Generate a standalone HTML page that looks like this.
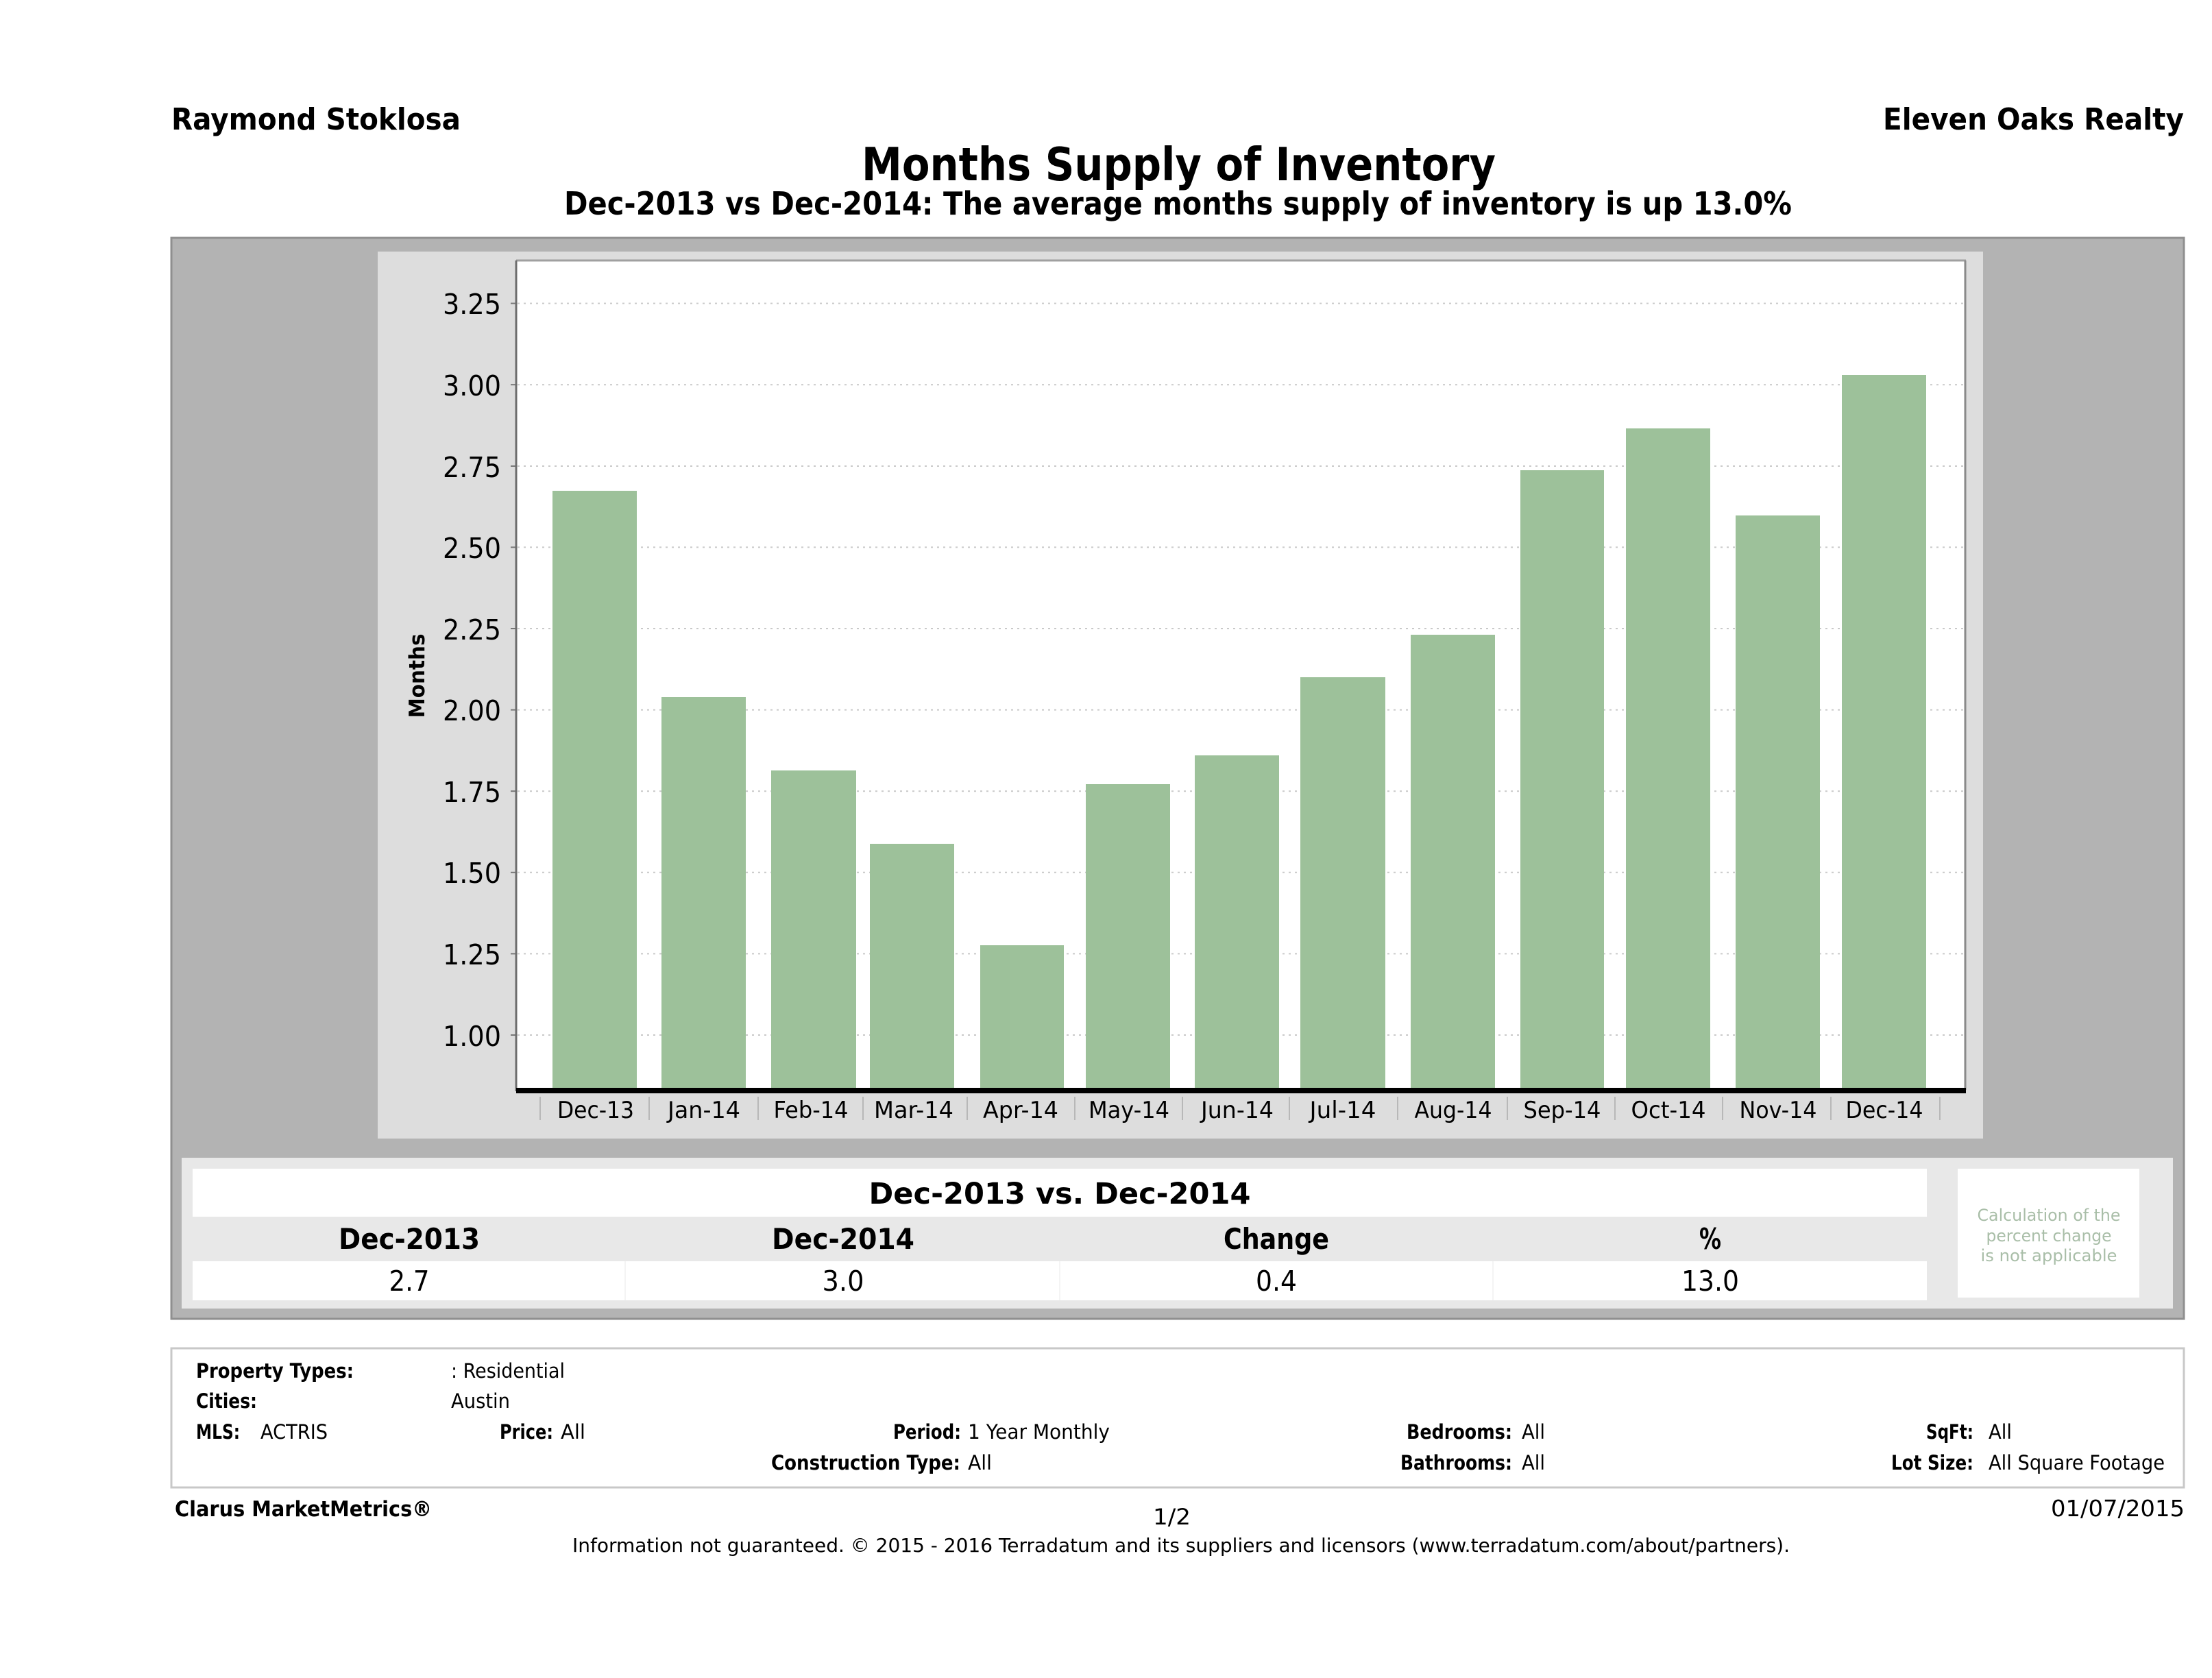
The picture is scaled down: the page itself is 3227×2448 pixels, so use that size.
<!DOCTYPE html>
<html>
<head>
<meta charset="utf-8">
<style>
html,body{margin:0;padding:0;background:#fff;}
svg{display:block;}
text{font-family:"DejaVu Sans","Liberation Sans",sans-serif;fill:#000;}
.b{font-weight:bold;}
</style>
</head>
<body>
<svg width="3227" height="2448" viewBox="0 0 3227 2448" xmlns="http://www.w3.org/2000/svg">
  <rect x="0" y="0" width="3227" height="2448" fill="#ffffff"/>

  <!-- Header -->
  <text class="b" x="250" y="189" font-size="44" textLength="422" lengthAdjust="spacingAndGlyphs">Raymond Stoklosa</text>
  <text class="b" x="2747" y="189" font-size="44" textLength="439" lengthAdjust="spacingAndGlyphs">Eleven Oaks Realty</text>
  <text class="b" x="1257" y="263" font-size="67" textLength="925" lengthAdjust="spacingAndGlyphs">Months Supply of Inventory</text>
  <text class="b" x="823" y="313" font-size="46" textLength="1791" lengthAdjust="spacingAndGlyphs">Dec-2013 vs Dec-2014: The average months supply of inventory is up 13.0%</text>

  <!-- Outer gray panel -->
  <rect x="250" y="347" width="2936" height="1577" fill="#b3b3b3" stroke="#8f8f8f" stroke-width="3"/>

  <!-- Chart light panel -->
  <rect x="551" y="367" width="2342" height="1294" fill="#dddddd"/>

  <!-- Plot area -->
  <rect x="753" y="381" width="2115" height="1208" fill="#ffffff"/>
  <line x1="753" y1="380" x2="2868" y2="380" stroke="#a0a0a0" stroke-width="3"/>
  <line x1="2867" y1="380" x2="2867" y2="1590" stroke="#8a8a8a" stroke-width="3"/>

  <!-- Gridlines -->
  <g stroke="#c9c9c9" stroke-width="2" stroke-dasharray="3,6">
    <line x1="755" y1="442.6" x2="2866" y2="442.6"/>
    <line x1="755" y1="561.2" x2="2866" y2="561.2"/>
    <line x1="755" y1="680" x2="2866" y2="680"/>
    <line x1="755" y1="798.4" x2="2866" y2="798.4"/>
    <line x1="755" y1="917" x2="2866" y2="917"/>
    <line x1="755" y1="1035.6" x2="2866" y2="1035.6"/>
    <line x1="755" y1="1154.2" x2="2866" y2="1154.2"/>
    <line x1="755" y1="1272.8" x2="2866" y2="1272.8"/>
    <line x1="755" y1="1391.4" x2="2866" y2="1391.4"/>
    <line x1="755" y1="1510" x2="2866" y2="1510"/>
  </g>

  <!-- Y tick marks -->
  <g stroke="#777" stroke-width="2">
    <line x1="745" y1="442.6" x2="753" y2="442.6"/>
    <line x1="745" y1="561.2" x2="753" y2="561.2"/>
    <line x1="745" y1="680" x2="753" y2="680"/>
    <line x1="745" y1="798.4" x2="753" y2="798.4"/>
    <line x1="745" y1="917" x2="753" y2="917"/>
    <line x1="745" y1="1035.6" x2="753" y2="1035.6"/>
    <line x1="745" y1="1154.2" x2="753" y2="1154.2"/>
    <line x1="745" y1="1272.8" x2="753" y2="1272.8"/>
    <line x1="745" y1="1391.4" x2="753" y2="1391.4"/>
    <line x1="745" y1="1510" x2="753" y2="1510"/>
  </g>

  <!-- Y tick labels -->
  <g font-size="41" text-anchor="end" fill="#111">
    <text x="731" y="458" textLength="85" lengthAdjust="spacingAndGlyphs">3.25</text>
    <text x="731" y="577" textLength="85" lengthAdjust="spacingAndGlyphs">3.00</text>
    <text x="731" y="696" textLength="85" lengthAdjust="spacingAndGlyphs">2.75</text>
    <text x="731" y="814" textLength="85" lengthAdjust="spacingAndGlyphs">2.50</text>
    <text x="731" y="933" textLength="85" lengthAdjust="spacingAndGlyphs">2.25</text>
    <text x="731" y="1051" textLength="85" lengthAdjust="spacingAndGlyphs">2.00</text>
    <text x="731" y="1170" textLength="85" lengthAdjust="spacingAndGlyphs">1.75</text>
    <text x="731" y="1288" textLength="85" lengthAdjust="spacingAndGlyphs">1.50</text>
    <text x="731" y="1407" textLength="85" lengthAdjust="spacingAndGlyphs">1.25</text>
    <text x="731" y="1526" textLength="85" lengthAdjust="spacingAndGlyphs">1.00</text>
  </g>

  <!-- Y axis title -->
  <text class="b" x="0" y="0" font-size="31" text-anchor="middle" textLength="123" lengthAdjust="spacingAndGlyphs" transform="translate(619,986) rotate(-90)">Months</text>

  <!-- Bars -->
  <g fill="#9dc19a">
    <rect x="806" y="716" width="123" height="872"/>
    <rect x="965" y="1017" width="123" height="571"/>
    <rect x="1125" y="1124" width="124" height="464"/>
    <rect x="1269" y="1231" width="123" height="357"/>
    <rect x="1430" y="1379" width="122" height="209"/>
    <rect x="1584" y="1144" width="123" height="444"/>
    <rect x="1743" y="1102" width="123" height="486"/>
    <rect x="1897" y="988" width="124" height="600"/>
    <rect x="2058" y="926" width="123" height="662"/>
    <rect x="2218" y="686" width="122" height="902"/>
    <rect x="2372" y="625" width="123" height="963"/>
    <rect x="2532" y="752" width="123" height="836"/>
    <rect x="2687" y="547" width="123" height="1041"/>
  </g>

  <!-- Left axis line -->
  <line x1="753" y1="380" x2="753" y2="1592" stroke="#6e6e6e" stroke-width="3"/>
  <!-- Bottom axis -->
  <rect x="753" y="1587" width="2115" height="8" fill="#000"/>

  <!-- X separators -->
  <g stroke="#b8b8b8" stroke-width="2">
    <line x1="788" y1="1600" x2="788" y2="1634"/>
    <line x1="947" y1="1600" x2="947" y2="1634"/>
    <line x1="1106" y1="1600" x2="1106" y2="1634"/>
    <line x1="1259" y1="1600" x2="1259" y2="1634"/>
    <line x1="1411" y1="1600" x2="1411" y2="1634"/>
    <line x1="1568" y1="1600" x2="1568" y2="1634"/>
    <line x1="1725" y1="1600" x2="1725" y2="1634"/>
    <line x1="1881" y1="1600" x2="1881" y2="1634"/>
    <line x1="2039" y1="1600" x2="2039" y2="1634"/>
    <line x1="2199" y1="1600" x2="2199" y2="1634"/>
    <line x1="2356" y1="1600" x2="2356" y2="1634"/>
    <line x1="2513" y1="1600" x2="2513" y2="1634"/>
    <line x1="2671" y1="1600" x2="2671" y2="1634"/>
    <line x1="2830" y1="1600" x2="2830" y2="1634"/>
  </g>

  <!-- X labels -->
  <g font-size="34" text-anchor="middle" fill="#111">
    <text x="869" y="1631" textLength="112" lengthAdjust="spacingAndGlyphs">Dec-13</text>
    <text x="1027" y="1631" textLength="106" lengthAdjust="spacingAndGlyphs">Jan-14</text>
    <text x="1183" y="1631" textLength="109" lengthAdjust="spacingAndGlyphs">Feb-14</text>
    <text x="1333" y="1631" textLength="116" lengthAdjust="spacingAndGlyphs">Mar-14</text>
    <text x="1489" y="1631" textLength="110" lengthAdjust="spacingAndGlyphs">Apr-14</text>
    <text x="1647" y="1631" textLength="118" lengthAdjust="spacingAndGlyphs">May-14</text>
    <text x="1805" y="1631" textLength="106" lengthAdjust="spacingAndGlyphs">Jun-14</text>
    <text x="1959" y="1631" textLength="97" lengthAdjust="spacingAndGlyphs">Jul-14</text>
    <text x="2120" y="1631" textLength="113" lengthAdjust="spacingAndGlyphs">Aug-14</text>
    <text x="2279" y="1631" textLength="113" lengthAdjust="spacingAndGlyphs">Sep-14</text>
    <text x="2434" y="1631" textLength="109" lengthAdjust="spacingAndGlyphs">Oct-14</text>
    <text x="2594" y="1631" textLength="113" lengthAdjust="spacingAndGlyphs">Nov-14</text>
    <text x="2749" y="1631" textLength="113" lengthAdjust="spacingAndGlyphs">Dec-14</text>
  </g>

  <!-- Table area -->
  <rect x="265" y="1689" width="2905" height="220" fill="#e8e8e8"/>
  <rect x="281" y="1705" width="2530" height="70" fill="#ffffff"/>
  <rect x="281" y="1840" width="2530" height="57" fill="#ffffff"/>
  <g stroke="#f4f4f4" stroke-width="2">
    <line x1="912" y1="1840" x2="912" y2="1897"/>
    <line x1="1546" y1="1840" x2="1546" y2="1897"/>
    <line x1="2178" y1="1840" x2="2178" y2="1897"/>
  </g>
  <text class="b" x="1546" y="1756" font-size="43" text-anchor="middle" textLength="557" lengthAdjust="spacingAndGlyphs">Dec-2013 vs. Dec-2014</text>
  <g class="b" font-size="42" text-anchor="middle" font-weight="bold">
    <text x="597" y="1822" textLength="206" lengthAdjust="spacingAndGlyphs">Dec-2013</text>
    <text x="1230" y="1822" textLength="208" lengthAdjust="spacingAndGlyphs">Dec-2014</text>
    <text x="1862" y="1822" textLength="154" lengthAdjust="spacingAndGlyphs">Change</text>
    <text x="2495" y="1822" textLength="32" lengthAdjust="spacingAndGlyphs">%</text>
  </g>
  <g font-size="41" text-anchor="middle">
    <text x="597" y="1883" textLength="59" lengthAdjust="spacingAndGlyphs">2.7</text>
    <text x="1230" y="1883" textLength="61" lengthAdjust="spacingAndGlyphs">3.0</text>
    <text x="1862" y="1883" textLength="60" lengthAdjust="spacingAndGlyphs">0.4</text>
    <text x="2495" y="1883" textLength="84" lengthAdjust="spacingAndGlyphs">13.0</text>
  </g>

  <!-- Note box -->
  <rect x="2856" y="1705" width="265" height="188" fill="#ffffff"/>
  <g font-size="24" text-anchor="middle">
    <text x="2989" y="1781" textLength="209" lengthAdjust="spacingAndGlyphs" style="fill:#a9bea8">Calculation of the</text>
    <text x="2989" y="1811" textLength="183" lengthAdjust="spacingAndGlyphs" style="fill:#a9bea8">percent change</text>
    <text x="2989" y="1840" textLength="199" lengthAdjust="spacingAndGlyphs" style="fill:#a9bea8">is not applicable</text>
  </g>

  <!-- Footer info box -->
  <rect x="250" y="1967" width="2936" height="203" fill="#ffffff" stroke="#c8c8c8" stroke-width="3"/>
  <g font-size="29">
    <text class="b" x="286" y="2010" textLength="230" lengthAdjust="spacingAndGlyphs">Property Types:</text>
    <text x="658" y="2010" textLength="166" lengthAdjust="spacingAndGlyphs">: Residential</text>

    <text class="b" x="286" y="2054" textLength="89" lengthAdjust="spacingAndGlyphs">Cities:</text>
    <text x="658" y="2054" textLength="86" lengthAdjust="spacingAndGlyphs">Austin</text>

    <text class="b" x="286" y="2099" textLength="64" lengthAdjust="spacingAndGlyphs">MLS:</text>
    <text x="380" y="2099" textLength="98" lengthAdjust="spacingAndGlyphs">ACTRIS</text>
    <text class="b" x="729" y="2099" textLength="78" lengthAdjust="spacingAndGlyphs">Price:</text>
    <text x="818" y="2099" textLength="36" lengthAdjust="spacingAndGlyphs">All</text>
    <text class="b" x="1303" y="2099" textLength="99" lengthAdjust="spacingAndGlyphs">Period:</text>
    <text x="1412" y="2099" textLength="207" lengthAdjust="spacingAndGlyphs">1 Year Monthly</text>
    <text class="b" x="2052" y="2099" textLength="154" lengthAdjust="spacingAndGlyphs">Bedrooms:</text>
    <text x="2220" y="2099" textLength="34" lengthAdjust="spacingAndGlyphs">All</text>
    <text class="b" x="2810" y="2099" textLength="69" lengthAdjust="spacingAndGlyphs">SqFt:</text>
    <text x="2901" y="2099" textLength="34" lengthAdjust="spacingAndGlyphs">All</text>

    <text class="b" x="1125" y="2144" textLength="276" lengthAdjust="spacingAndGlyphs">Construction Type:</text>
    <text x="1412" y="2144" textLength="35" lengthAdjust="spacingAndGlyphs">All</text>
    <text class="b" x="2043" y="2144" textLength="163" lengthAdjust="spacingAndGlyphs">Bathrooms:</text>
    <text x="2220" y="2144" textLength="34" lengthAdjust="spacingAndGlyphs">All</text>
    <text class="b" x="2759" y="2144" textLength="120" lengthAdjust="spacingAndGlyphs">Lot Size:</text>
    <text x="2901" y="2144" textLength="257" lengthAdjust="spacingAndGlyphs">All Square Footage</text>
  </g>

  <!-- Bottom footer -->
  <text class="b" x="255" y="2212" font-size="31" textLength="375" lengthAdjust="spacingAndGlyphs">Clarus MarketMetrics®</text>
  <text x="1682" y="2224" font-size="32" textLength="55" lengthAdjust="spacingAndGlyphs">1/2</text>
  <text x="2992" y="2212" font-size="33" textLength="195" lengthAdjust="spacingAndGlyphs">01/07/2015</text>
  <text x="835" y="2264" font-size="28" textLength="1776" lengthAdjust="spacingAndGlyphs">Information not guaranteed. © 2015 - 2016 Terradatum and its suppliers and licensors (www.terradatum.com/about/partners).</text>
</svg>
</body>
</html>
